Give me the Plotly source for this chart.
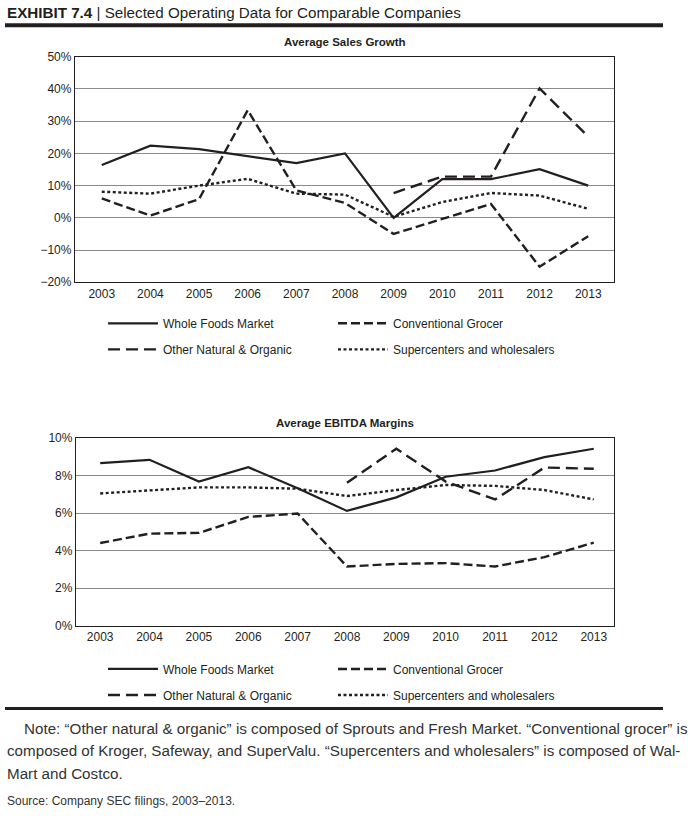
import plotly.graph_objects as go

years = [2003, 2004, 2005, 2006, 2007, 2008, 2009, 2010, 2011, 2012, 2013]
series_names = ["Whole Foods Market", "Conventional Grocer",
                "Other Natural & Organic", "Supercenters and wholesalers"]

sales_wfm = [16.4, 22.4, 21.3, 19.1, 17.0, 20.0, 0.0, 12.0, 12.0, 15.1, 10.0]
sales_conv = [6.0, 0.7, 5.8, 33.4, 8.5, 4.6, -5.0, -0.3, 4.3, -15.2, -5.7]
sales_other = [None, None, None, None, None, None, 7.7, 12.8, 12.8, 40.2, 25.2]
sales_super = [8.1, 7.5, 10.0, 12.1, 7.5, 7.2, 0.3, 4.9, 7.7, 6.9, 2.8]

ebitda_wfm = [8.66, 8.84, 7.68, 8.45, 7.32, 6.12, 6.84, 7.94, 8.27, 8.98, 9.43]
ebitda_conv = [4.41, 4.91, 4.95, 5.80, 5.98, 3.16, 3.30, 3.34, 3.16, 3.66, 4.43]
ebitda_other = [None, None, None, None, None, 7.62, 9.43, 7.68, 6.73, 8.43, 8.36]
ebitda_super = [7.05, 7.23, 7.37, 7.37, 7.30, 6.91, 7.23, 7.50, 7.45, 7.23, 6.73]

W, H = 690, 816
INK = "#231f20"
FONT = "Liberation Sans, Arial, sans-serif"

def px(x):
    return x / W

def py(y):
    # target pixel row -> paper fraction (small empirical vertical correction)
    yy = (y - 7.3) / 0.981
    return 1 - yy / H

styles = [
    dict(dash="solid", width=2.2),
    dict(dash="9px,4px", width=2.4),
    dict(dash="12px,6px", width=2.4),
    dict(dash="3px,2.5px", width=2.4),
]

fig = go.Figure()

def add_set(vals, xa, ya, legs):
    for i, (name, v) in enumerate(zip(series_names, vals)):
        fig.add_trace(go.Scatter(
            x=years, y=v, name=name, mode="lines",
            line=dict(color=INK, **styles[i]),
            xaxis=xa, yaxis=ya, legend=legs[i // 2],
            connectgaps=False, hoverinfo="skip"))

add_set([sales_wfm, sales_conv, sales_other, sales_super], "x", "y", ["legend", "legend2"])
add_set([ebitda_wfm, ebitda_conv, ebitda_other, ebitda_super], "x2", "y2", ["legend3", "legend4"])

axis_common = dict(showline=True, linecolor=INK, linewidth=1.3, mirror=True,
                   ticks="", zeroline=False,
                   tickfont=dict(family=FONT, size=12, color=INK))

fig.update_layout(
    xaxis=dict(domain=[px(75), px(614)], range=[2002.45, 2013.53], anchor="y",
               tickmode="array", tickvals=years, showgrid=False, **axis_common),
    yaxis=dict(domain=[py(282), py(57)], range=[-20, 50], anchor="x",
               dtick=10, ticksuffix="%", showgrid=True, gridcolor="#8a8a8a",
               gridwidth=1, **axis_common),
    xaxis2=dict(domain=[px(76), px(614)], range=[2002.51, 2013.41], anchor="y2",
                tickmode="array", tickvals=years, showgrid=False, **axis_common),
    yaxis2=dict(domain=[py(625), py(437.5)], range=[0, 10], anchor="x2",
                dtick=2, ticksuffix="%", showgrid=True, gridcolor="#8a8a8a",
                gridwidth=1, **axis_common),
)

leg_common = dict(orientation="h", xanchor="left", yanchor="middle",
                  font=dict(family=FONT, size=12, color=INK),
                  bgcolor="rgba(0,0,0,0)", itemwidth=50,
                  entrywidth=165, entrywidthmode="pixels",
                  itemclick=False, itemdoubleclick=False)
fig.update_layout(
    legend=dict(x=px(103), y=py(323), **leg_common),
    legend2=dict(x=px(103), y=py(349), **leg_common),
    legend3=dict(x=px(103), y=py(668), **leg_common),
    legend4=dict(x=px(103), y=py(694), **leg_common),
)

NOTE_FONT = dict(family=FONT, size=15.2, color="#333333")
annotations = [
    dict(text="<b>EXHIBIT 7.4</b> | Selected Operating Data for Comparable Companies",
         x=px(5), y=py(12.5), xanchor="left", yanchor="middle",
         font=dict(family=FONT, size=15.2, color=INK)),
    dict(text="<b>Average Sales Growth</b>", x=px(345), y=py(42),
         xanchor="center", yanchor="middle",
         font=dict(family=FONT, size=11.5, color=INK)),
    dict(text="<b>Average EBITDA Margins</b>", x=px(345), y=py(423),
         xanchor="center", yanchor="middle",
         font=dict(family=FONT, size=11.5, color=INK)),
    dict(text="Note: \u201cOther natural & organic\u201d is composed of Sprouts and Fresh Market. \u201cConventional grocer\u201d is",
         x=px(22), y=py(727), xanchor="left", yanchor="middle", font=NOTE_FONT),
    dict(text="composed of Kroger, Safeway, and SuperValu. \u201cSupercenters and wholesalers\u201d is composed of Wal-",
         x=px(5), y=py(749.5), xanchor="left", yanchor="middle", font=NOTE_FONT),
    dict(text="Mart and Costco.",
         x=px(5), y=py(772), xanchor="left", yanchor="middle", font=NOTE_FONT),
    dict(text="Source: Company SEC filings, 2003\u20132013.",
         x=px(5), y=py(800), xanchor="left", yanchor="middle",
         font=dict(family=FONT, size=12, color="#333333")),
]
for a in annotations:
    a.update(xref="paper", yref="paper", showarrow=False)

shapes = [
    dict(type="line", xref="paper", yref="paper", x0=px(5), x1=px(663),
         y0=py(25.5), y1=py(25.5), line=dict(color=INK, width=4)),
    dict(type="line", xref="paper", yref="paper", x0=px(5), x1=px(663),
         y0=py(707.5), y1=py(707.5), line=dict(color=INK, width=3)),
]

fig.update_layout(
    width=W, height=H, autosize=False,
    margin=dict(l=0, r=0, t=0, b=0),
    paper_bgcolor="white", plot_bgcolor="white",
    annotations=annotations, shapes=shapes,
    font=dict(family=FONT, color=INK),
)

post = ("document.documentElement.style.margin='0';"
        "document.body.style.margin='0';"
        "document.documentElement.style.overflow='hidden';"
        "document.body.style.overflow='hidden';"
        "var d=document.getElementById('{plot_id}');"
        "d.style.position='fixed';d.style.top='0px';d.style.left='0px';")

fig.write_html("out.html", config={"displayModeBar": False}, post_script=post)
